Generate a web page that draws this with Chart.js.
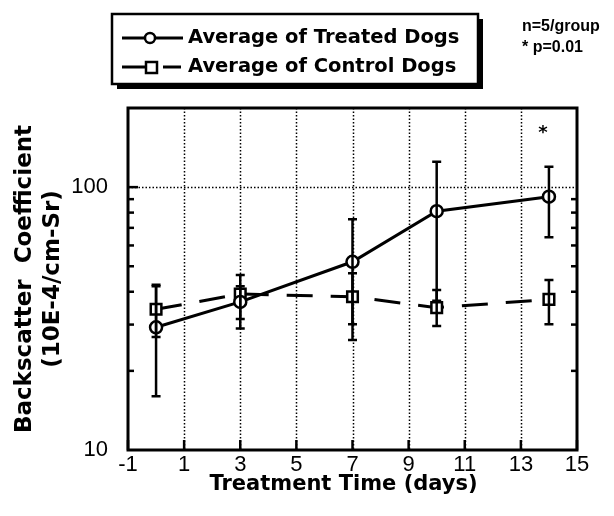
<!DOCTYPE html>
<html>
<head>
<meta charset="utf-8">
<script src="https://cdn.jsdelivr.net/npm/chart.js@4"></script>
<style>
  html, body { margin: 0; padding: 0; background: #fff; }
  #wrap { width: 614px; height: 516px; }
</style>
</head>
<body>
<div id="wrap"><canvas id="chart" width="614" height="516"></canvas></div>
<script>
  // data
  const days = [0, 3, 7, 10, 14];
  const treatedMean = [29.3, 36.6, 52, 81, 92];
  const treatedLow = [16, 29, 26.2, 37, 64.5];
  const treatedHigh = [42.5, 46.3, 75.5, 125, 119.5];
  const controlMean = [34.3, 39.2, 38.3, 34.8, 37.4];
  const controlLow = [26.9, 31.5, 30.1, 29.6, 30.1];
  const controlHigh = [42, 42, 47, 40.6, 44.3];

  const xTicks = [-1, 1, 3, 5, 7, 9, 11, 13, 15];
  const xGrid = [1, 3, 5, 7, 9, 11, 13];
  const yLabels = [10, 100];
  const yMinor = [20, 30, 40, 50, 60, 70, 80, 90];
  const yGrid = [100];

  const legendLabels = ['Average of Treated Dogs', 'Average of Control Dogs'];
  const noteLines = ['n=5/group', '* p=0.01'];
  const xTitle = 'Treatment Time (days)';
  const starAt = { x: 14, y: 160 };

  const toPoints = (ys) => days.map((d, i) => ({ x: d, y: ys[i] }));

  // frame, dotted grid and inward ticks
  const framePlugin = {
    id: 'frame',
    beforeDatasetsDraw(chart) {
      const { ctx, chartArea: a, scales: { x, y } } = chart;
      ctx.save();
      ctx.strokeStyle = '#000';
      ctx.lineWidth = 1.5;
      ctx.setLineDash([1.5, 2]);
      xGrid.forEach(v => {
        const px = Math.round(x.getPixelForValue(v)) + 0.5;
        ctx.beginPath(); ctx.moveTo(px, a.top); ctx.lineTo(px, a.bottom); ctx.stroke();
      });
      yGrid.forEach(v => {
        const py = Math.round(y.getPixelForValue(v)) + 0.5;
        ctx.beginPath(); ctx.moveTo(a.left, py); ctx.lineTo(a.right, py); ctx.stroke();
      });
      ctx.setLineDash([]);
      ctx.lineWidth = 2.5;
      xTicks.forEach(v => {
        const px = x.getPixelForValue(v);
        ctx.beginPath(); ctx.moveTo(px, a.bottom); ctx.lineTo(px, a.bottom - 10); ctx.stroke();
      });
      yMinor.forEach(v => {
        const py = y.getPixelForValue(v);
        ctx.beginPath(); ctx.moveTo(a.left, py); ctx.lineTo(a.left + 6, py); ctx.stroke();
        ctx.beginPath(); ctx.moveTo(a.right, py); ctx.lineTo(a.right - 6, py); ctx.stroke();
      });
      yGrid.forEach(v => {
        const py = y.getPixelForValue(v);
        ctx.beginPath(); ctx.moveTo(a.left, py); ctx.lineTo(a.left + 10, py); ctx.stroke();
      });
      ctx.lineWidth = 3;
      ctx.strokeRect(a.left, a.top, a.right - a.left, a.bottom - a.top);
      ctx.restore();
    }
  };

  // error bars, legend box and notes
  const extrasPlugin = {
    id: 'extras',
    afterDatasetsDraw(chart) {
      const { ctx, chartArea: a, scales: { x, y } } = chart;
      ctx.save();
      ctx.strokeStyle = '#000';
      ctx.lineWidth = 2.5;
      [[treatedLow, treatedHigh], [controlLow, controlHigh]].forEach(([lo, hi]) => {
        days.forEach((d, i) => {
          const px = x.getPixelForValue(d);
          const y1 = y.getPixelForValue(lo[i]);
          const y2 = y.getPixelForValue(hi[i]);
          ctx.beginPath();
          ctx.moveTo(px, y1); ctx.lineTo(px, y2);
          ctx.moveTo(px - 4.5, y1); ctx.lineTo(px + 4.5, y1);
          ctx.moveTo(px - 4.5, y2); ctx.lineTo(px + 4.5, y2);
          ctx.stroke();
        });
      });

      ctx.fillStyle = '#000';
      ctx.font = 'bold 18px "DejaVu Sans"';
      ctx.textAlign = 'center';
      ctx.textBaseline = 'middle';
      ctx.fillText('*', x.getPixelForValue(starAt.x) - 6, y.getPixelForValue(starAt.y));

      // x title, sits a little left of the plot centre in the original
      ctx.font = 'bold 21px "DejaVu Sans"';
      ctx.fillText(xTitle, (a.left + a.right) / 2 - 9, 485);

      // legend box with drop shadow
      const bx = 112, by = 14, bw = 366, bh = 70;
      ctx.fillRect(bx + 5, by + 5, bw, bh);
      ctx.fillStyle = '#fff';
      ctx.fillRect(bx, by, bw, bh);
      ctx.lineWidth = 2.5;
      ctx.strokeRect(bx, by, bw, bh);

      const rows = [38, 67];
      ctx.lineWidth = 3;
      ctx.beginPath(); ctx.moveTo(122, rows[0]); ctx.lineTo(183, rows[0]); ctx.stroke();
      ctx.fillStyle = '#fff';
      ctx.lineWidth = 2.5;
      ctx.beginPath(); ctx.arc(150, rows[0], 5, 0, Math.PI * 2); ctx.fill(); ctx.stroke();
      ctx.lineWidth = 3;
      ctx.beginPath(); ctx.moveTo(122, rows[1]); ctx.lineTo(147, rows[1]); ctx.stroke();
      ctx.beginPath(); ctx.moveTo(163, rows[1]); ctx.lineTo(181, rows[1]); ctx.stroke();
      ctx.lineWidth = 2.5;
      ctx.fillRect(146, rows[1] - 5, 11, 11);
      ctx.strokeRect(146, rows[1] - 5, 11, 11);

      ctx.fillStyle = '#000';
      ctx.font = 'bold 19.5px "DejaVu Sans"';
      ctx.textAlign = 'left';
      ctx.fillText(legendLabels[0], 188, rows[0]);
      ctx.fillText(legendLabels[1], 188, rows[1]);

      ctx.font = 'bold 16px "Liberation Sans"';
      ctx.textBaseline = 'alphabetic';
      ctx.fillText(noteLines[0], 522, 31);
      ctx.fillText(noteLines[1], 522, 52);
      ctx.restore();
    }
  };

  const ctx = document.getElementById('chart');
  new Chart(ctx, {
    type: 'line',
    data: {
      datasets: [{
        label: legendLabels[0],
        data: toPoints(treatedMean),
        borderColor: '#000',
        borderWidth: 3,
        pointStyle: 'circle',
        pointRadius: 6,
        pointBorderWidth: 2.5,
        pointBackgroundColor: '#fff',
        pointBorderColor: '#000',
        tension: 0
      }, {
        label: legendLabels[1],
        data: toPoints(controlMean),
        borderColor: '#000',
        borderWidth: 3,
        borderDash: [26, 18],
        pointStyle: 'rect',
        pointRadius: 7.5,
        pointBorderWidth: 2.5,
        pointBackgroundColor: '#fff',
        pointBorderColor: '#000',
        tension: 0
      }]
    },
    options: {
      responsive: false,
      animation: false,
      layout: { padding: { top: 108, right: 37, left: 0, bottom: 0 } },
      scales: {
        x: {
          type: 'linear',
          min: -1,
          max: 15,
          afterFit: (s) => { s.height = 66; },
          afterBuildTicks: (s) => { s.ticks = xTicks.map(v => ({ value: v })); },
          grid: { display: false, drawTicks: false },
          border: { display: false },
          ticks: {
            color: '#000',
            padding: 2,
            maxRotation: 0,
            autoSkip: false,
            font: { family: 'Liberation Sans', size: 22 }
          }
        },
        y: {
          type: 'logarithmic',
          min: 10,
          max: 200,
          afterFit: (s) => { s.width = 128; },
          afterBuildTicks: (s) => { s.ticks = yLabels.map(v => ({ value: v })); },
          grid: { display: false, drawTicks: false },
          border: { display: false },
          ticks: {
            color: '#000',
            padding: 20,
            autoSkip: false,
            font: { family: 'Liberation Sans', size: 22 },
            callback: (v) => String(v)
          },
          title: {
            display: true,
            text: ['Backscatter  Coefficient', '(10E-4/cm-Sr)'],
            color: '#000',
            font: { family: 'DejaVu Sans', size: 23, weight: 'bold', lineHeight: 1.22 },
            padding: { top: 11, bottom: 0 }
          }
        }
      },
      plugins: {
        legend: { display: false },
        tooltip: { enabled: false }
      }
    },
    plugins: [framePlugin, extrasPlugin]
  });
</script>
</body>
</html>
